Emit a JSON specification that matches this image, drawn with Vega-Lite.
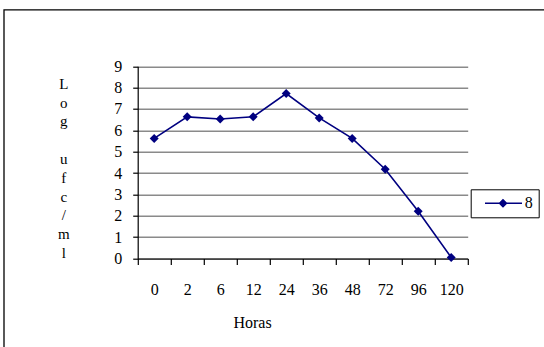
{
  "$schema": "https://vega.github.io/schema/vega-lite/v6.json",
  "width": 544,
  "height": 341,
  "autosize": {"type": "none"},
  "padding": {"left": 3.8, "top": 9.7, "right": -3.8, "bottom": -3.7},
  "background": "white",
  "config": {
    "view": {"stroke": "black", "strokeWidth": 1.3, "fill": "white"},
    "font": "Liberation Serif",
    "axis": {
      "domainColor": "black",
      "domainWidth": 1.2,
      "tickColor": "black",
      "tickWidth": 1.2,
      "labelColor": "black",
      "labelFont": "Liberation Serif",
      "labelFontSize": 16,
      "titleFont": "Liberation Serif",
      "titleColor": "black",
      "titleFontWeight": "normal"
    }
  },
  "data": {
    "values": [
      {"hora": 0, "log": 5.62, "serie": "8"},
      {"hora": 2, "log": 6.63, "serie": "8"},
      {"hora": 6, "log": 6.53, "serie": "8"},
      {"hora": 12, "log": 6.63, "serie": "8"},
      {"hora": 24, "log": 7.72, "serie": "8"},
      {"hora": 36, "log": 6.58, "serie": "8"},
      {"hora": 48, "log": 5.62, "serie": "8"},
      {"hora": 72, "log": 4.18, "serie": "8"},
      {"hora": 96, "log": 2.21, "serie": "8"},
      {"hora": 120, "log": 0.05, "serie": "8"}
    ]
  },
  "encoding": {
    "x": {
      "field": "hora",
      "type": "ordinal",
      "scale": {"type": "band", "range": [133.9, 463.9], "paddingInner": 0, "paddingOuter": 0},
      "axis": {
        "orient": "bottom",
        "offset": -92.2,
        "grid": false,
        "tickBand": "extent",
        "tickSize": 6,
        "labelAngle": 0,
        "labelPadding": 17,
        "title": "Horas",
        "titleFontSize": 16,
        "titleX": 248.2,
        "titleY": 69.3,
        "titleAlign": "center",
        "titleBaseline": "alphabetic"
      }
    },
    "y": {
      "field": "log",
      "type": "quantitative",
      "scale": {"domain": [0, 9], "range": [248.8, 56.5], "nice": false, "zero": true},
      "axis": {
        "offset": -133.9,
        "values": [0, 1, 2, 3, 4, 5, 6, 7, 8, 9],
        "grid": true,
        "gridColor": "#8a8a8a",
        "gridWidth": 1.5,
        "tickSize": 5,
        "labelPadding": 11,
        "title": ["L", "o", "g", "\u2800", "u", "f", "c", "/", "m", "l"],
        "titleAngle": 0,
        "titleFontSize": 15,
        "titleLineHeight": 18.8,
        "titleX": -74.4,
        "titleY": 78.6,
        "titleAlign": "center",
        "titleBaseline": "alphabetic"
      }
    },
    "color": {
      "field": "serie",
      "type": "nominal",
      "scale": {"range": ["#000080"]},
      "legend": {
        "title": null,
        "orient": "none",
        "legendX": 466.9,
        "legendY": 179.6,
        "padding": 6,
        "strokeColor": "black",
        "fillColor": "white",
        "symbolType": "M0.06,0H7.46M2.96,0L3.66,-0.7L4.36,0L3.66,0.7Z",
        "symbolSize": 100,
        "symbolFillColor": "#000080",
        "symbolStrokeColor": "#000080",
        "symbolStrokeWidth": 1.5,
        "labelOffset": 32,
        "labelFont": "Liberation Serif",
        "labelFontSize": 16,
        "labelColor": "black"
      }
    }
  },
  "layer": [
    {"mark": {"type": "line", "strokeWidth": 1.6}},
    {"mark": {"type": "point", "shape": "diamond", "filled": true, "size": 80, "opacity": 1}}
  ]
}
